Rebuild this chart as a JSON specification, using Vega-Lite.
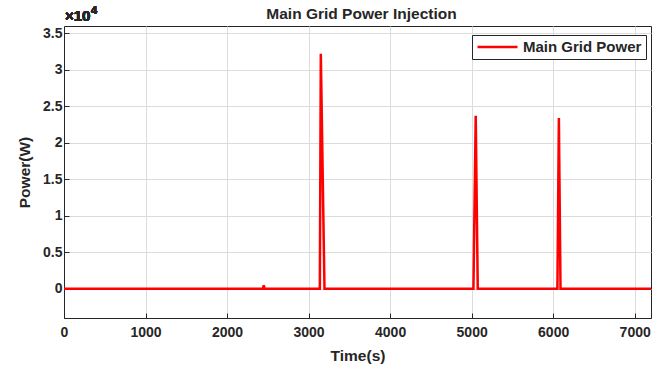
{
  "$schema": "https://vega.github.io/schema/vega-lite/v6.json",
  "autosize": {"type": "none"},
  "width": 587,
  "height": 292,
  "padding": {"left": 64, "top": 26, "right": 18, "bottom": 54},
  "background": "white",
  "title": {
    "text": "Main Grid Power Injection",
    "font": "Liberation Sans",
    "fontSize": 15.5,
    "fontWeight": "bold",
    "color": "#262626",
    "anchor": "middle",
    "dx": 4,
    "offset": -17
  },
  "data": {
    "values": [
      {"time": 0, "power": 0},
      {"time": 2440, "power": 0},
      {"time": 2450, "power": 500},
      {"time": 2460, "power": 0},
      {"time": 3138, "power": 0},
      {"time": 3150, "power": 32200},
      {"time": 3195, "power": 0},
      {"time": 5022, "power": 0},
      {"time": 5050, "power": 23700},
      {"time": 5075, "power": 0},
      {"time": 6052, "power": 0},
      {"time": 6070, "power": 23400},
      {"time": 6090, "power": 0},
      {"time": 7200, "power": 0}
    ]
  },
  "config": {
    "view": {"stroke": "#262626", "strokeWidth": 1},
    "axis": {
      "labelFont": "Liberation Sans",
      "labelFontSize": 14,
      "labelFontWeight": "bold",
      "labelColor": "#262626",
      "titleFont": "Liberation Sans",
      "titleFontSize": 15.5,
      "titleFontWeight": "bold",
      "titleColor": "#262626",
      "gridColor": "#dcdcdc",
      "gridWidth": 1,
      "domainColor": "#262626",
      "tickColor": "#262626"
    }
  },
  "layer": [
    {
      "mark": {"type": "line", "strokeWidth": 2.5, "clip": true},
      "encoding": {
        "x": {
          "field": "time",
          "type": "quantitative",
          "scale": {"domain": [0, 7200], "nice": false, "zero": false},
          "axis": {
            "title": "Time(s)",
            "values": [0, 1000, 2000, 3000, 4000, 5000, 6000, 7000],
            "format": "d",
            "tickSize": -5,
            "labelPadding": 12,
            "titlePadding": 9,
            "labelFlush": false
          }
        },
        "y": {
          "field": "power",
          "type": "quantitative",
          "scale": {"domain": [-4000, 36000], "nice": false, "zero": false},
          "axis": {
            "title": "Power(W)",
            "values": [0, 5000, 10000, 15000, 20000, 25000, 30000, 35000],
            "labelExpr": "datum.value / 10000",
            "tickSize": -5,
            "labelPadding": 7,
            "titlePadding": 10
          }
        },
        "color": {
          "datum": "Main Grid Power",
          "scale": {"range": ["#ff0000"]},
          "legend": {
            "title": null,
            "orient": "none",
            "legendX": 408,
            "legendY": 9,
            "fillColor": "white",
            "strokeColor": "#262626",
            "padding": 4,
            "symbolType": "stroke",
            "symbolSize": 1600,
            "symbolStrokeWidth": 2.5,
            "clipHeight": 16,
            "labelFont": "Liberation Sans",
            "labelFontSize": 15,
            "labelFontWeight": "bold",
            "labelColor": "#262626"
          }
        }
      }
    },
    {
      "mark": {
        "type": "text",
        "text": "×10",
        "align": "left",
        "baseline": "alphabetic",
        "dx": 1,
        "dy": -5,
        "font": "Liberation Sans",
        "fontSize": 15,
        "fontWeight": "bold",
        "color": "#262626",
        "clip": false
      },
      "encoding": {
        "x": {"datum": 0, "type": "quantitative"},
        "y": {"datum": 36000, "type": "quantitative"}
      }
    },
    {
      "mark": {
        "type": "text",
        "text": "4",
        "align": "left",
        "baseline": "alphabetic",
        "dx": 27,
        "dy": -12,
        "font": "Liberation Sans",
        "fontSize": 11,
        "fontWeight": "bold",
        "color": "#262626",
        "clip": false
      },
      "encoding": {
        "x": {"datum": 0, "type": "quantitative"},
        "y": {"datum": 36000, "type": "quantitative"}
      }
    }
  ]
}
